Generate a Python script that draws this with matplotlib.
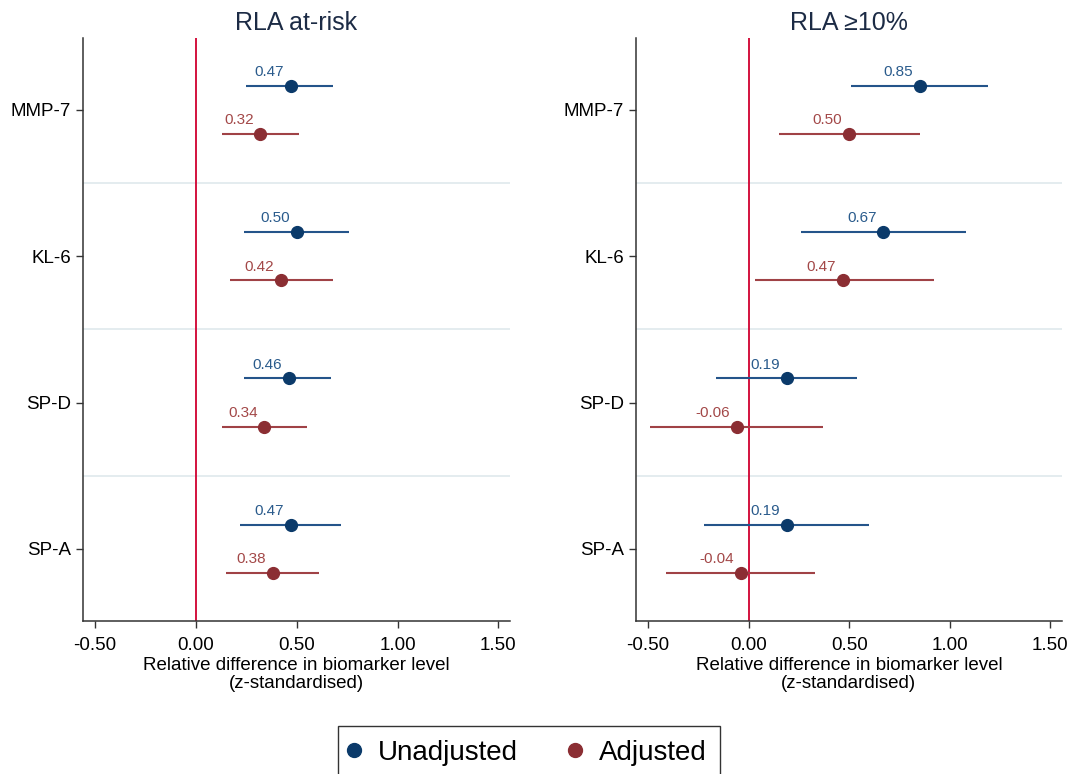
import matplotlib
matplotlib.use('Agg')
import matplotlib.pyplot as plt
from matplotlib.lines import Line2D

plt.rcParams['font.family'] = ['Liberation Sans', 'DejaVu Sans']
plt.rcParams['axes.unicode_minus'] = False

# Data
biomarkers = ['MMP-7', 'KL-6', 'SP-D', 'SP-A']
panel_titles = ['RLA at-risk', 'RLA \u226510%']

# RLA at-risk
risk_unadj = [0.47, 0.50, 0.46, 0.47]
risk_unadj_lo = [0.25, 0.24, 0.24, 0.22]
risk_unadj_hi = [0.68, 0.76, 0.67, 0.72]
risk_adj = [0.32, 0.42, 0.34, 0.38]
risk_adj_lo = [0.13, 0.17, 0.13, 0.15]
risk_adj_hi = [0.51, 0.68, 0.55, 0.61]

# RLA >=10%
ten_unadj = [0.85, 0.67, 0.19, 0.19]
ten_unadj_lo = [0.51, 0.26, -0.16, -0.22]
ten_unadj_hi = [1.19, 1.08, 0.54, 0.60]
ten_adj = [0.50, 0.47, -0.06, -0.04]
ten_adj_lo = [0.15, 0.03, -0.49, -0.41]
ten_adj_hi = [0.85, 0.92, 0.37, 0.33]

xticks = [-0.5, 0.0, 0.5, 1.0, 1.5]

# colours
col_unadj = '#0b3a6a'
col_unadj_ci = '#24548a'
col_unadj_txt = '#2a5b8c'
col_adj = '#8b2e33'
col_adj_ci = '#a04246'
col_adj_txt = '#a34848'
col_ref = '#d3123e'
col_sep = '#e2eaee'
col_title = '#1c2b45'

fig = plt.figure(figsize=(10.78, 7.74), dpi=100, facecolor='white')
ax1 = fig.add_axes([0.077, 0.198, 0.396, 0.753])
ax2 = fig.add_axes([0.590, 0.198, 0.395, 0.753])

ypos = [3, 2, 1, 0]
off = 0.165


def draw_panel(ax, title, unadj, ulo, uhi, adj, alo, ahi):
    for sep in [0.5, 1.5, 2.5]:
        ax.axhline(sep, color=col_sep, lw=1.3, zorder=0)
    ax.axvline(0, color=col_ref, lw=1.4, zorder=1)

    yu = [y + off for y in ypos]
    ya = [y - off for y in ypos]
    ax.hlines(yu, ulo, uhi, color=col_unadj_ci, lw=1.5, zorder=2)
    ax.hlines(ya, alo, ahi, color=col_adj_ci, lw=1.5, zorder=2)
    ax.plot(unadj, yu, 'o', color=col_unadj, ms=8.5, zorder=3)
    ax.plot(adj, ya, 'o', color=col_adj, ms=8.5, zorder=3)

    for v, y in zip(unadj, yu):
        ax.annotate(f'{v:.2f}', (v, y), xytext=(-5, 7), textcoords='offset points',
                    ha='right', va='baseline', fontsize=11, color=col_unadj_txt)
    for v, y in zip(adj, ya):
        ax.annotate(f'{v:.2f}', (v, y), xytext=(-5, 7), textcoords='offset points',
                    ha='right', va='baseline', fontsize=11, color=col_adj_txt)

    ax.set_xlim(-0.56, 1.557)
    ax.set_ylim(-0.49, 3.49)
    ax.set_xticks(xticks)
    ax.set_xticklabels([f'{t:.2f}' for t in xticks])
    ax.set_yticks(ypos)
    ax.set_yticklabels(biomarkers)
    ax.tick_params(axis='both', direction='out', length=5, width=1,
                   color='#333333', labelsize=13.5, labelcolor='black')
    ax.tick_params(axis='x', pad=7)
    ax.tick_params(axis='y', pad=3.5)
    ax.set_xlabel('Relative difference in biomarker level\n(z-standardised)',
                  fontsize=13.5, labelpad=2, linespacing=1.1)
    ax.set_title(title, fontsize=18, color=col_title, pad=6)

    for side in ['top', 'right']:
        ax.spines[side].set_visible(False)
    for side in ['left', 'bottom']:
        ax.spines[side].set_color('#333333')
        ax.spines[side].set_linewidth(1.1)


draw_panel(ax1, panel_titles[0], risk_unadj, risk_unadj_lo, risk_unadj_hi,
           risk_adj, risk_adj_lo, risk_adj_hi)
draw_panel(ax2, panel_titles[1], ten_unadj, ten_unadj_lo, ten_unadj_hi,
           ten_adj, ten_adj_lo, ten_adj_hi)

# legend box runs past the bottom edge of the figure, as in the original
handles = [Line2D([], [], marker='o', ls='none', color=col_unadj, ms=10),
           Line2D([], [], marker='o', ls='none', color=col_adj, ms=10)]
leg = fig.legend(handles, ['Unadjusted', 'Adjusted'], loc='upper center',
                 bbox_to_anchor=(529 / 1078, 1 - 726 / 774), ncol=2, fontsize=20,
                 frameon=True, fancybox=False, edgecolor='black',
                 handlelength=0.2, handletextpad=0.75, columnspacing=1.95,
                 borderpad=0.5, borderaxespad=0)
leg.get_frame().set_linewidth(1.0)

fig.savefig('out.png', dpi=100, facecolor='white')
